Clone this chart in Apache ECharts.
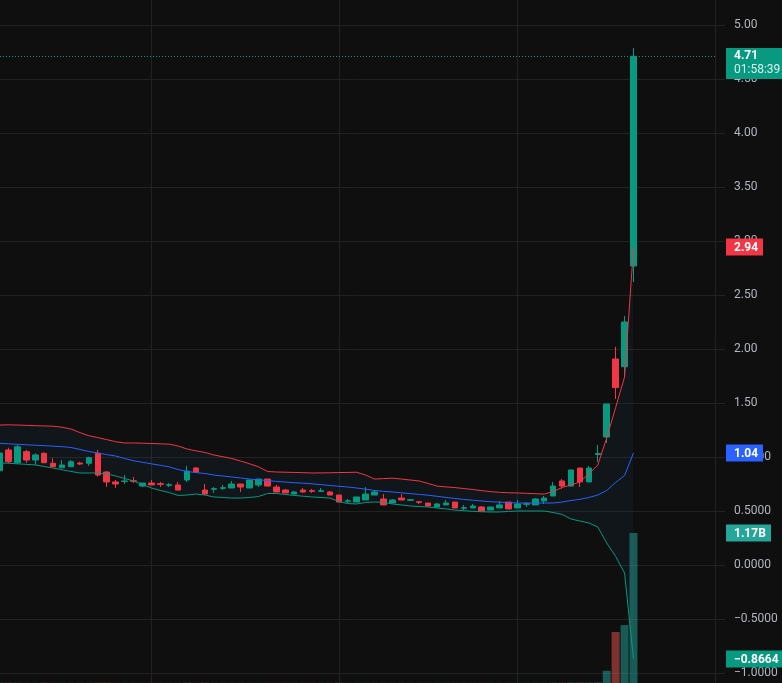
<!DOCTYPE html>
<html><head><meta charset="utf-8">
<script src="https://cdn.jsdelivr.net/npm/echarts@6/dist/echarts.min.js"></script>
<style>html,body{margin:0;padding:0;background:#0f0f0f;}#c{width:782px;height:683px;}</style>
</head><body><div id="c"></div>
<script>
// ---- data (price values) ----
const opens  = [0.873,1.065,0.947,1.049,0.972,1.034,0.942,0.901,0.910,0.944,0.942,1.034,0.861,0.769,0.773,0.780,0.731,0.759,0.753,0.738,
                0.741,0.787,0.898,0.694,0.701,0.710,0.713,0.750,0.713,0.741,0.796,0.722,0.694,0.657,0.694,0.688,0.682,0.676,0.648,0.590,
                0.583,0.602,0.648,0.611,0.574,0.620,0.599,0.586,0.574,0.537,0.556,0.583,0.525,0.528,0.537,0.509,0.528,0.583,0.528,0.562,
                0.556,0.593,0.639,0.778,0.731,0.898,0.769,1.023,1.185,1.907,1.836,2.769];
const closes = [1.037,0.956,1.095,0.972,1.019,0.947,0.910,0.926,0.956,0.935,0.994,0.833,0.769,0.750,0.778,0.775,0.759,0.741,0.747,0.744,
                0.694,0.870,0.861,0.657,0.707,0.716,0.750,0.722,0.787,0.796,0.731,0.676,0.667,0.676,0.676,0.682,0.688,0.648,0.583,0.595,
                0.630,0.657,0.676,0.556,0.602,0.602,0.605,0.581,0.546,0.565,0.574,0.528,0.531,0.546,0.500,0.537,0.556,0.519,0.565,0.568,
                0.611,0.620,0.731,0.731,0.880,0.769,0.898,1.032,1.491,1.642,2.250,4.710];
const lows   = [0.861,0.942,0.932,0.947,0.926,0.947,0.910,0.901,0.910,0.926,0.917,0.818,0.722,0.713,0.750,0.759,0.722,0.741,0.722,0.722,
                0.694,0.769,0.861,0.648,0.667,0.694,0.713,0.676,0.713,0.722,0.731,0.676,0.667,0.657,0.667,0.667,0.676,0.648,0.583,0.574,
                0.583,0.602,0.648,0.556,0.574,0.602,0.593,0.565,0.546,0.537,0.556,0.528,0.509,0.528,0.500,0.509,0.528,0.519,0.528,0.537,
                0.556,0.565,0.639,0.704,0.731,0.722,0.769,0.954,1.130,1.537,1.744,2.620];
const highs  = [1.046,1.086,1.111,1.065,1.034,1.044,0.988,0.972,0.972,0.956,1.003,1.065,0.870,0.787,0.833,0.815,0.759,0.787,0.769,0.759,
                0.769,0.917,0.907,0.750,0.722,0.741,0.778,0.750,0.787,0.796,0.796,0.741,0.704,0.685,0.713,0.704,0.713,0.685,0.648,0.611,
                0.630,0.722,0.694,0.657,0.611,0.657,0.611,0.593,0.574,0.574,0.602,0.583,0.556,0.565,0.546,0.537,0.593,0.583,0.602,0.583,
                0.620,0.639,0.769,0.796,0.880,0.898,0.917,1.111,1.491,2.021,2.306,4.787];
// volume in billions
const volumes = [0.002,0.002,0.002,0.001,0.001,0.002,0.001,0.001,0.001,0.001,0.001,0.002,0.002,0.001,0.001,0.001,0.001,0.001,0.001,0.001,
                 0.001,0.002,0.001,0.002,0.001,0.001,0.001,0.001,0.001,0.001,0.001,0.001,0.001,0.001,0.001,0.001,0.001,0.001,0.002,0.001,
                 0.001,0.001,0.001,0.001,0.001,0.001,0.001,0.001,0.001,0.001,0.001,0.001,0.001,0.001,0.001,0.001,0.001,0.001,0.001,0.001,
                 0.001,0.001,0.002,0.002,0.003,0.003,0.003,0.004,0.096,0.398,0.452,1.170];
const bbUpper = [1.296,1.298,1.296,1.293,1.290,1.288,1.285,1.276,1.259,1.226,1.197,1.180,1.161,1.142,1.130,1.130,1.128,1.125,1.122,1.119,
                 1.102,1.074,1.057,1.042,1.019,1.003,0.986,0.963,0.937,0.910,0.866,0.861,0.859,0.857,0.855,0.852,0.853,0.854,0.856,0.857,
                 0.859,0.833,0.796,0.800,0.804,0.796,0.787,0.778,0.755,0.731,0.723,0.717,0.708,0.699,0.689,0.679,0.673,0.669,0.667,0.664,
                 0.660,0.657,0.680,0.718,0.741,0.769,0.843,0.926,1.176,1.458,1.741,2.940];
const bbBasis = [1.127,1.122,1.118,1.113,1.109,1.105,1.100,1.096,1.088,1.070,1.051,1.037,1.022,1.009,0.986,0.965,0.951,0.937,0.923,0.909,
                 0.884,0.866,0.856,0.847,0.833,0.824,0.815,0.806,0.796,0.789,0.782,0.774,0.768,0.762,0.758,0.752,0.744,0.736,0.729,0.722,
                 0.713,0.702,0.690,0.682,0.676,0.668,0.661,0.654,0.646,0.636,0.626,0.616,0.607,0.600,0.593,0.586,0.582,0.578,0.574,0.574,
                 0.574,0.574,0.574,0.583,0.597,0.608,0.625,0.648,0.690,0.764,0.829,1.037];
const bbLower = [0.944,0.942,0.937,0.932,0.926,0.912,0.898,0.882,0.866,0.852,0.852,0.852,0.843,0.824,0.801,0.778,0.745,0.713,0.690,0.671,
                 0.644,0.648,0.657,0.648,0.630,0.625,0.620,0.620,0.625,0.634,0.662,0.662,0.653,0.644,0.637,0.630,0.625,0.620,0.588,0.569,
                 0.565,0.579,0.583,0.581,0.565,0.556,0.546,0.542,0.537,0.528,0.519,0.509,0.503,0.497,0.493,0.491,0.491,0.496,0.500,0.500,
                 0.500,0.500,0.486,0.468,0.426,0.407,0.389,0.352,0.204,0.079,-0.074,-0.8664];
const priceTicks = [-1.0,-0.5,0.0,0.5,1.0,1.5,2.0,2.5,3.0,3.5,4.0,4.5,5.0];
const priceTickLabels = ['\u22121.0000','\u22120.5000','0.0000','0.5000','1.0000','1.50','2.00','2.50','3.00','3.50','4.00','4.50','5.00'];
const timeGridIdx = [17, 38, 58];
const countdown = '01:58:39';

// ---- build ----
const UP = '#089981', DOWN = '#f23645', GRID = '#222222';
const n = closes.length;
const idx = closes.map((_, i) => i);
const candleData = idx.map(i => [i, opens[i], closes[i], lows[i], highs[i]]);
const volData = idx.map(i => ({value: [i, volumes[i]], itemStyle: {color: closes[i] >= opens[i] ? 'rgba(38,166,154,0.5)' : 'rgba(239,83,80,0.5)'}}));
const pts = arr => idx.map(i => [i, arr[i]]);
const XMIN = 0.048, XMAX = 80.13;
const fmtTag = v => (Math.abs(v) < 1 ? v.toFixed(4) : v.toFixed(2)).replace('-', '\u2212');

const chart = echarts.init(document.getElementById('c'), null, {renderer: 'canvas'});
chart.setOption({
  animation: false,
  backgroundColor: '#0f0f0f',
  textStyle: {fontFamily: 'Roboto, sans-serif'},
  grid: [
    {left: 0, right: 67, top: 0, bottom: 10},
    {left: 0, right: 67, top: 0, bottom: 0}
  ],
  xAxis: [
    {type: 'value', gridIndex: 0, min: XMIN, max: XMAX, show: false, splitLine: {show: false}},
    {type: 'value', gridIndex: 1, min: XMIN, max: XMAX, show: false, splitLine: {show: false}}
  ],
  yAxis: [
    {type: 'value', gridIndex: 0, position: 'right', min: -1.0, max: 5.2315, interval: 0.5,
     axisLine: {show: false},
     axisTick: {show: true, length: 10, lineStyle: {color: GRID}},
     splitLine: {show: true, showMaxLine: false, lineStyle: {color: GRID, width: 1}},
     axisLabel: {margin: 19, color: '#b2b5be', fontSize: 12, fontFamily: 'Roboto, sans-serif', align: 'left',
       showMinLabel: true, showMaxLabel: false,
       formatter: v => { const k = priceTicks.findIndex(t => Math.abs(t - v) < 1e-6); return k >= 0 ? priceTickLabels[k] : ''; }}},
    {type: 'value', gridIndex: 1, position: 'right', min: 0, max: 5.3274,
     axisLine: {show: true, lineStyle: {color: GRID, width: 1}}, axisTick: {show: false}, axisLabel: {show: false},
     splitLine: {show: false}}
  ],
  series: [
    {type: 'bar', xAxisIndex: 1, yAxisIndex: 1, data: volData, barWidth: 8, z: 2, silent: true,
     markLine: {silent: true, z: 1, symbol: ['none', 'none'], label: {show: false},
       lineStyle: {color: GRID, type: 'solid', width: 1},
       data: timeGridIdx.map(x => ({xAxis: x}))}},
    {type: 'custom', xAxisIndex: 0, yAxisIndex: 0, data: [[0, bbBasis[0]]], z: 3, silent: true, clip: false,
     renderItem: (params, api) => {
       if (params.dataIndex !== 0) return null;
       const top = idx.map(i => api.coord([i, bbUpper[i]]));
       const bot = idx.map(i => api.coord([i, bbLower[i]])).reverse();
       return {type: 'polygon', shape: {points: top.concat(bot)}, style: {fill: 'rgba(33,150,243,0.05)'}};
     }},
    {type: 'candlestick', data: candleData, encode: {x: 0, y: [1, 2, 3, 4]}, barWidth: 6, clip: false, z: 4,
     itemStyle: {color: UP, color0: DOWN, borderColor: UP, borderColor0: DOWN, borderWidth: 1},
     markLine: {silent: true, symbol: ['none', 'none'], label: {show: false},
       lineStyle: {color: UP, type: [1, 2], width: 1},
       data: [{yAxis: closes[n - 1]}]}},
    {type: 'line', data: pts(bbUpper), showSymbol: false, symbol: 'none', lineStyle: {color: DOWN, width: 1}, z: 5, silent: true},
    {type: 'line', data: pts(bbBasis), showSymbol: false, symbol: 'none', lineStyle: {color: '#2962ff', width: 1}, z: 5, silent: true},
    {type: 'line', data: pts(bbLower), showSymbol: false, symbol: 'none', lineStyle: {color: UP, width: 1}, z: 5, silent: true}
  ]
});

// price tags on the axis, placed through the chart's own scales
const py = v => chart.convertToPixel({yAxisIndex: 0}, v);
const vy = v => chart.convertToPixel({yAxisIndex: 1}, v);
const TX = 726;
function tag(y, w, fill, text) {
  return [
    {type: 'rect', z: 100, shape: {x: TX, y: Math.round(y) - 8.5, width: w, height: 17}, style: {fill: fill}},
    {type: 'text', z: 101, x: TX + 8, y: Math.round(y) + 0.5, style: {text: text, fill: '#ffffff', font: 'bold 12px Roboto, sans-serif', verticalAlign: 'middle', align: 'left'}}
  ];
}
const yLast = py(closes[n - 1]);
const g = [
  {type: 'rect', z: 100, shape: {x: TX, y: Math.round(yLast) - 8, width: 56, height: 31}, style: {fill: UP}},
  {type: 'text', z: 101, x: TX + 8, y: Math.round(yLast), style: {text: closes[n - 1].toFixed(2), fill: '#ffffff', font: 'bold 12px Roboto, sans-serif', verticalAlign: 'middle', align: 'left'}},
  {type: 'text', z: 101, x: TX + 8, y: Math.round(yLast) + 14, style: {text: countdown, fill: 'rgba(255,255,255,0.85)', font: '12px Roboto, sans-serif', verticalAlign: 'middle', align: 'left'}}
].concat(
  tag(py(bbUpper[n - 1]), 37, DOWN, fmtTag(bbUpper[n - 1])),
  tag(py(bbBasis[n - 1]), 37, '#2962ff', fmtTag(bbBasis[n - 1])),
  tag(vy(volumes[n - 1]), 45, '#26a69a', volumes[n - 1].toFixed(2) + 'B'),
  tag(py(bbLower[n - 1]), 56, UP, fmtTag(bbLower[n - 1]))
);
chart.setOption({graphic: g});
</script>
</body></html>
